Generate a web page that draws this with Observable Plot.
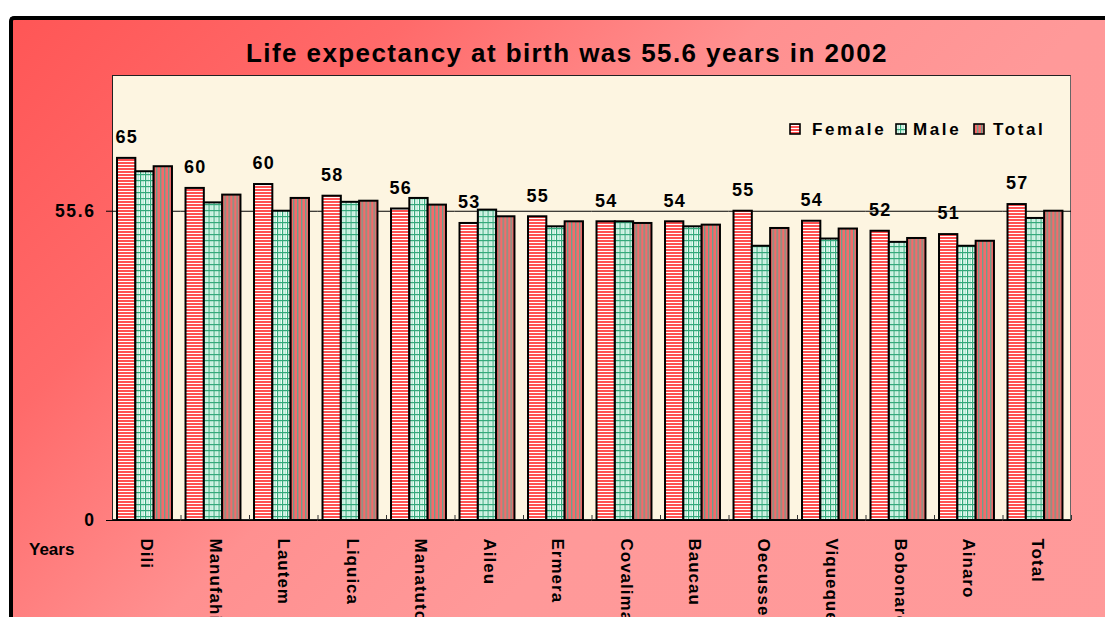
<!DOCTYPE html>
<html><head><meta charset="utf-8">
<script src="https://cdn.jsdelivr.net/npm/d3@7"></script>
<script src="https://cdn.jsdelivr.net/npm/@observablehq/plot@0.6"></script>
<style>
html,body{margin:0;padding:0;background:#fff;overflow:hidden;width:1105px;height:617px;font-family:"Liberation Sans",Arial,sans-serif;}
#frame{position:absolute;left:9px;top:16px;width:1130px;height:660px;border-top:4px solid #000;border-left:4px solid #000;border-top-left-radius:5px;
  background:linear-gradient(135deg,#ff5656 0%,#ff6a6a 22%,#ff9090 42%,#ff9999 60%,#ff9a9a 100%);}
#plotbg{position:absolute;left:112px;top:75px;width:959px;height:445px;box-sizing:border-box;background:#fdf5e1;border:1px solid #222;border-right-color:#666;}
#chart{position:absolute;left:0;top:0;}
#title{position:absolute;left:246px;top:40px;font-weight:bold;font-size:26px;line-height:26px;letter-spacing:1.42px;white-space:nowrap;color:#000;}
#years{position:absolute;left:29px;top:541px;font-weight:bold;font-size:17px;line-height:17px;white-space:nowrap;}
.leg{position:absolute;top:121px;font-weight:bold;font-size:17px;line-height:17px;letter-spacing:2.6px;white-space:nowrap;}
.sw{position:absolute;top:123px;width:12px;height:12px;}
#chart g[aria-label="fx-axis tick label"] text{letter-spacing:1px;}
#chart g[aria-label="y-axis tick label"] text{letter-spacing:1.6px;}
#chart g[aria-label="text"] text{letter-spacing:1.2px;}
</style></head>
<body>
<svg width="0" height="0" style="position:absolute">
<defs>
<pattern id="patF" patternUnits="userSpaceOnUse" width="4" height="3">
  <rect width="4" height="3" fill="#ffffff"/><rect width="4" height="2" fill="#ff5252"/>
</pattern>
<pattern id="patM" patternUnits="userSpaceOnUse" width="5" height="6">
  <rect width="5" height="6" fill="#effcf6"/><rect x="2.5" width="1.5" height="6" fill="#b6ecd6"/>
  <rect width="1.2" height="6" fill="#34a97b"/><rect width="5" height="1.2" fill="#34a97b"/>
</pattern>
<pattern id="patT" patternUnits="userSpaceOnUse" width="4" height="4">
  <rect width="4" height="4" fill="#f46a6a"/><rect width="1.4" height="4" fill="#6e9f8b"/>
</pattern>
</defs></svg>
<div id="frame"></div>
<div id="plotbg"></div>
<div id="title">Life expectancy at birth was 55.6 years in 2002</div>
<div id="years">Years</div>
<div id="chart"></div>
<div id="legend"></div>
<script>
const regions = ["Dili","Manufahi","Lautem","Liquica","Manatuto","Aileu","Ermera","Covalima","Baucau","Oecusse","Viqueque","Bobonaro","Ainaro","Total"];
const female = [65.1,59.7,60.4,58.3,56.0,53.4,54.6,53.7,53.7,55.6,53.8,52.0,51.4,56.8];
const male   = [62.7,57.1,55.6,57.2,57.9,55.8,52.8,53.7,52.8,49.3,50.6,50.0,49.3,54.3];
const total  = [63.6,58.5,57.9,57.4,56.7,54.6,53.7,53.4,53.1,52.5,52.4,50.7,50.2,55.6];
const labels = ["65","60","60","58","56","53","55","54","54","55","54","52","51","57"];
const series = ["Female","Male","Total"];
const yTicks = [0, 55.6];
const yTickLabels = ["0","55.6"];
const fills = {Female:"url(#patF)", Male:"url(#patM)", Total:"url(#patT)"};

const rows = regions.flatMap((r,i)=>[
  {region:r, series:"Female", value:female[i], label:labels[i]},
  {region:r, series:"Male", value:male[i]},
  {region:r, series:"Total", value:total[i]}
]);

const W = 1105, H = 617, mL = 112, mR = 34, mT = 75, mB = 97;
const halfBand = (W - mL - mR) / regions.length / 2;

const chart = Plot.plot({
  width:W, height:H,
  marginLeft:mL, marginRight:mR, marginTop:mT, marginBottom:mB,
  style:{background:"transparent", overflow:"visible", fontFamily:"'Liberation Sans', Arial, sans-serif", color:"#000"},
  fx:{domain:regions, padding:0, round:false, label:null},
  x:{domain:series, paddingInner:0, paddingOuter:0.37, align:0.37, round:false, axis:null},
  y:{domain:[0,80], label:null, axis:null},
  color:{type:"identity"},
  marks:[
    Plot.ruleY(yTicks, {stroke:"#000", strokeWidth:1.2}),
    Plot.barY(rows, {fx:"region", x:"series", y:"value", fill:d=>fills[d.series], stroke:"#000", strokeWidth:2}),
    Plot.text(rows.filter(d=>d.series==="Female"), {fx:"region", x:"series", y:"value", text:"label", dy:-21, fontSize:18, fontWeight:"bold", fill:"#000"}),
    Plot.axisY({ticks:yTicks, tickFormat:(d)=>yTickLabels[yTicks.indexOf(d)], tickSize:6, tickPadding:11, fontSize:17.5, fontWeight:"bold", label:null, stroke:"#000"}),
    Plot.axisFx({anchor:"bottom", tickSize:-5, tickFormat:()=>"", dx:halfBand, label:null, stroke:"#333"}),
    Plot.axisFx({anchor:"bottom", tickRotate:90, tickSize:0, tickPadding:18, fontSize:17, fontWeight:"bold", label:null})
  ]
});
document.getElementById("chart").appendChild(chart);

const legend = document.getElementById("legend");
const legPos = [{sw:789, tx:812},{sw:895, tx:913},{sw:973, tx:993}];
series.forEach((s,i)=>{
  const sw = document.createElementNS("http://www.w3.org/2000/svg","svg");
  sw.setAttribute("class","sw"); sw.setAttribute("width","12"); sw.setAttribute("height","12");
  sw.style.left = legPos[i].sw + "px";
  sw.innerHTML = `<rect x="1" y="1" width="10" height="10" fill="${fills[s]}" stroke="#000" stroke-width="1.6"/>`;
  legend.appendChild(sw);
  const t = document.createElement("div");
  t.className = "leg"; t.style.left = legPos[i].tx + "px"; t.textContent = s;
  legend.appendChild(t);
});
</script>
</body></html>
